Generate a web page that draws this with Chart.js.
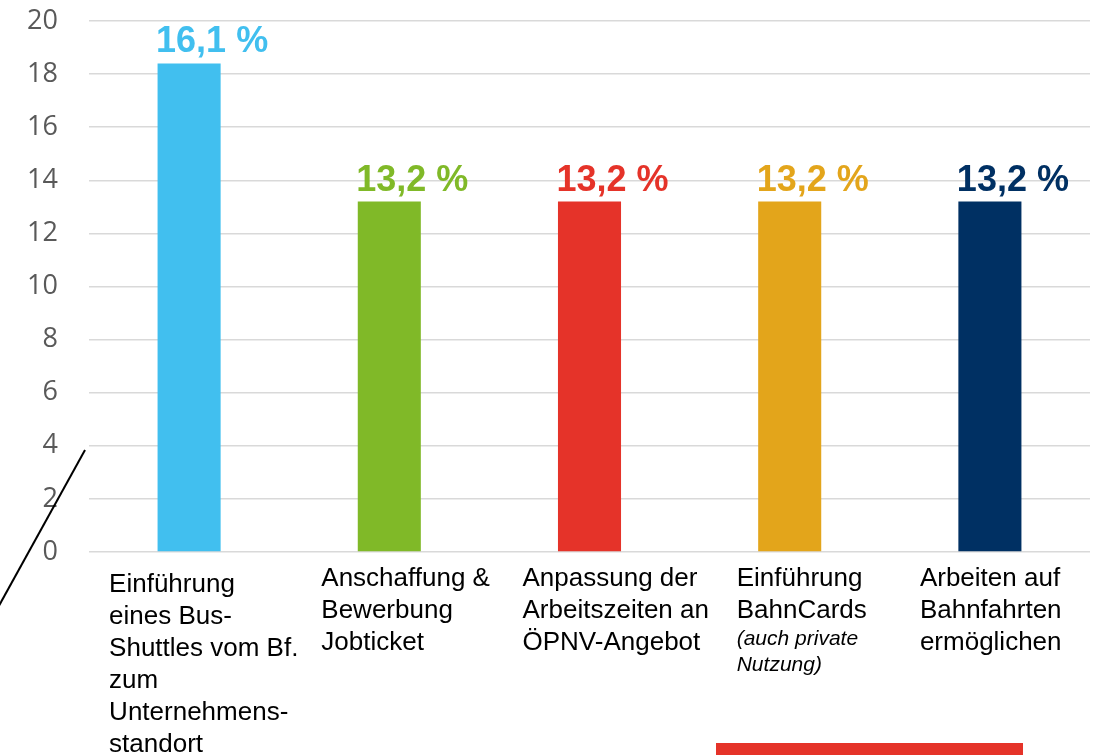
<!DOCTYPE html>
<html>
<head>
<meta charset="utf-8">
<script src="https://cdn.jsdelivr.net/npm/chart.js@4"></script>
<style>
  html, body { margin: 0; padding: 0; background: #fff; }
  #wrap { width: 1099px; height: 755px; }
</style>
</head>
<body>
<div id="wrap"><canvas id="chart"></canvas></div>
<script>
// Kategorien (mehrzeilig wie im Original)
const categories = [
	['Einführung', 'eines Bus-', 'Shuttles vom Bf.', 'zum', 'Unternehmens-', 'standort'],
	['Anschaffung &', 'Bewerbung', 'Jobticket'],
	['Anpassung der', 'Arbeitszeiten an', 'ÖPNV-Angebot'],
	['Einführung', 'BahnCards'],
	['Arbeiten auf', 'Bahnfahrten', 'ermöglichen']
];
const categoryNotes = [[], [], [], ['(auch private', 'Nutzung)'], []];
const values = [18.4, 13.2, 13.2, 13.2, 13.2];
const valueLabels = ['16,1 %', '13,2 %', '13,2 %', '13,2 %', '13,2 %'];
const barColors = ['#41bfef', '#80b928', '#e53329', '#e3a51b', '#003063'];

// label placement (left edge relative to category centre, first baseline)
const labelShift = [-80, -68, -67, -53, -70];
const labelTop = [592, 586, 586, 586, 586];

const drawExtras = {
	id: 'drawExtras',
	afterDatasetsDraw(chart) {
		const ctx = chart.ctx;
		const meta = chart.getDatasetMeta(0);
		const x = chart.scales.x;
		ctx.save();
		// value labels
		ctx.font = 'bold 36px "Liberation Sans", Arial, sans-serif';
		ctx.textAlign = 'center';
		ctx.textBaseline = 'alphabetic';
		meta.data.forEach((bar, i) => {
			ctx.fillStyle = barColors[i];
			ctx.fillText(valueLabels[i], bar.x + 23, bar.y - 11);
		});
		// category labels
		ctx.textAlign = 'left';
		ctx.fillStyle = '#000';
		categories.forEach((lines, i) => {
			const left = x.getPixelForValue(i) + labelShift[i];
			let y = labelTop[i];
			ctx.font = '26px "Liberation Sans", Arial, sans-serif';
			lines.forEach((t) => {
				ctx.fillText(t, left, y);
				y += 32;
			});
			ctx.font = 'italic 21px "Liberation Sans", Arial, sans-serif';
			y -= 5;
			categoryNotes[i].forEach((t) => {
				ctx.fillText(t, left, y);
				y += 26;
			});
		});
		// stray diagonal stroke
		ctx.strokeStyle = '#000';
		ctx.lineWidth = 2;
		ctx.beginPath();
		ctx.moveTo(85, 450);
		ctx.lineTo(-10, 622);
		ctx.stroke();
		// red bar at the bottom
		ctx.fillStyle = '#e53329';
		ctx.fillRect(716, 743, 307, 12);
		ctx.restore();
	}
};

const ctx = document.getElementById('chart').getContext('2d');
const myChart = new Chart(ctx, {
	type: 'bar',
	data: {
		labels: categories.map((l) => l.join(' ')),
		datasets: [
			{
				data: values,
				backgroundColor: barColors,
				borderWidth: 0,
				barPercentage: 0.315,
				categoryPercentage: 1
			}
		]
	},
	options: {
		responsive: true,
		maintainAspectRatio: false,
		animation: false,
		layout: {
			padding: { top: 21, right: 9, bottom: 203, left: 0 }
		},
		plugins: {
			legend: { display: false },
			tooltip: { enabled: false }
		},
		scales: {
			x: {
				display: false
			},
			y: {
				min: 0,
				max: 20,
				afterFit: (axis) => {
					axis.width = 89;
					axis.paddingTop = 0;
					axis.paddingBottom = 0;
				},
				border: { display: false },
				grid: {
					color: '#d9d9d9',
					lineWidth: 1.5,
					drawTicks: false
				},
				ticks: {
					stepSize: 2,
					padding: 31,
					color: '#595959',
					font: { family: '"Open Sans", sans-serif', size: 27 }
				}
			}
		}
	},
	plugins: [drawExtras]
});
</script>
</body>
</html>
